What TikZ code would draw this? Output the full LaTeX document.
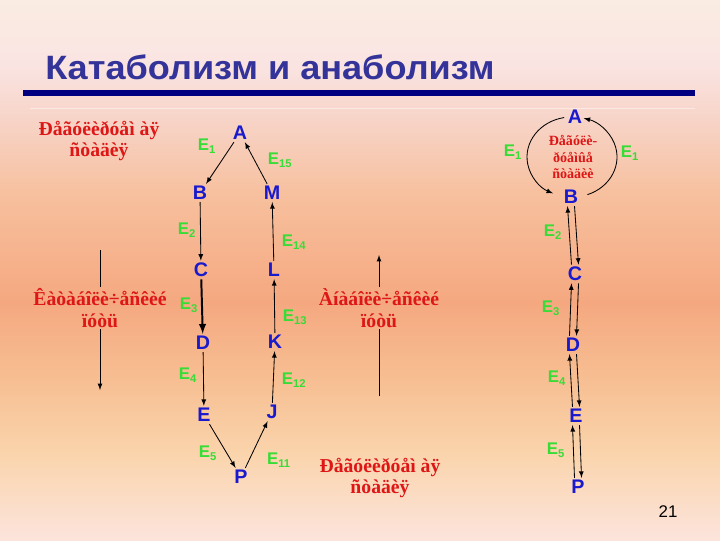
\documentclass[tikz,border=0pt]{standalone}
\usepackage{fontspec}
\setmainfont{Liberation Serif}
\setsansfont{Liberation Sans}
\newfontfamily\titlefont[FakeStretch=1.07]{Liberation Sans}
\definecolor{titleblue}{RGB}{51,51,153}
\definecolor{rulenavy}{RGB}{0,0,128}
\definecolor{notered}{RGB}{222,22,22}
\definecolor{enzgreen}{RGB}{55,220,55}
\definecolor{metblue}{RGB}{25,25,205}
\definecolor{bgtop}{RGB}{250,236,226}
\definecolor{bglight}{RGB}{250,228,226}
\definecolor{bgrose}{RGB}{247,212,200}
\definecolor{bgorange}{RGB}{247,192,158}
\definecolor{bgsalmon}{RGB}{245,168,128}
\definecolor{bgmid}{RGB}{247,190,146}
\definecolor{bgpeach}{RGB}{250,212,172}
\definecolor{bgpink}{RGB}{252,228,220}
\pgfdeclareverticalshading{slidebg}{100bp}{color(0bp)=(bgpink); color(25bp)=(bgpink); color(33bp)=(bgpeach); color(40bp)=(bgmid); color(47bp)=(bgsalmon); color(57bp)=(bgorange); color(64bp)=(bgrose); color(69bp)=(bglight); color(75bp)=(bgtop); color(100bp)=(bgtop)}
\begin{document}
\begin{tikzpicture}[>=latex, x=0.025cm, y=-0.025cm,
  met/.style={font=\sffamily\bfseries\fontsize{14}{14}\selectfont, text=metblue, inner sep=1.5pt},
  enz/.style={font=\sffamily\bfseries\fontsize{12}{12}\selectfont, text=enzgreen, inner sep=1pt},
  note/.style={font=\bfseries\fontsize{14}{15.5}\selectfont, text=notered, align=center, inner sep=1pt},
  link/.style={line width=0.6pt}]
\shade[shading=slidebg] (0,0) rectangle (720,540);
\useasboundingbox (0,0) rectangle (720,540);
% title
\node[anchor=base west, font=\titlefont\bfseries\fontsize{24}{24}\selectfont, text=titleblue, inner sep=0pt] (title) at (45,79) {Катаболизм и анаболизм};
\draw[rulenavy, line width=4.3pt] (23,93)--(695,93);
\draw[white, opacity=.45, line width=.6pt] (30,108)--(695,108);
% left cycle
\foreach \n/\x/\y in {A/240/133,B/200/193,C/201/270,D/203/343,E/204/415,P/241/477,J/272/412,K/275/342,L/274/270,M/272/193}
{
    \node[met] (\n) at (\x,\y) {\n};
}
\foreach \i/\x/\y in {1/207/146,15/280/160,2/187/230,14/294/242,3/189/305,13/295/317,4/188/375,12/294/380,5/208/453,11/279/460}
{
    \node[enz] (eL\i) at (\x,\y) {E\textsubscript{\i}};
}
\foreach \s/\t in {A/B,B/C,D/E,E/P,P/J,J/K,K/L,L/M,M/A}
{
    \draw[link,->] (\s)--(\t);
}
\draw[line width=1.4pt,->] (C)--(D);
% pathways
\node[note] (regL) at (99,141) {Ðåãóëèðóåì àÿ\\ñòàäèÿ};
\coordinate (catTop) at (100,250);
\node[note] (cat) at (100,308) {Êàòàáîëè÷åñêèé\\ïóòü};
\coordinate (catEnd) at (100,390);
\draw[link] (catTop)--(cat);
\draw[link,->] (cat)--(catEnd);
\coordinate (anaStart) at (379,396);
\node[note] (ana) at (379,308) {Àíàáîëè÷åñêèé\\ïóòü};
\coordinate (anaEnd) at (379,255);
\draw[link] (anaStart)--(ana);
\draw[link,->] (ana)--(anaEnd);
\node[note] (regM) at (380,478) {Ðåãóëèðóåì àÿ\\ñòàäèÿ};
% right chain
\foreach \n/\x/\y in {A/575/117,B/571/197,C/575/274,D/573/345,E/576/416,P/578/487}
{
    \node[met] (r\n) at (\x,\y) {\n};
}
\node[note, font=\bfseries\fontsize{10}{11.7}\selectfont] (rNote) at (573,157) {Ðåãóëè-\\ðóåìûå\\ñòàäèè};
\coordinate (rCtr) at (572,157);
\draw[link,->] ([shift={(100:32pt and 28.5pt)}]rCtr) arc[start angle=100, end angle=245, x radius=32pt, y radius=28.5pt];
\draw[link,->] ([shift={(-70:32pt and 28.5pt)}]rCtr) arc[start angle=-70, end angle=75, x radius=32pt, y radius=28.5pt];
\foreach \s/\t in {rB/rC,rC/rD,rD/rE,rE/rP}
{
    \draw[link,->] ([xshift=2.5pt]\s.south)--([xshift=2.5pt]\t.north);
    \draw[link,->] ([xshift=-2.5pt]\t.north)--([xshift=-2.5pt]\s.south);
}
\foreach \k/\i/\x/\y in {a/1/513/152,b/1/630/153,c/2/553/232,d/3/551/308,e/4/557/378,f/5/556/450}
{
    \node[enz] (eR\k) at (\x,\y) {E\textsubscript{\i}};
}
\node[font=\sffamily\fontsize{12}{12}\selectfont] (pgnum) at (668,512) {21};
\end{tikzpicture}
\end{document}
